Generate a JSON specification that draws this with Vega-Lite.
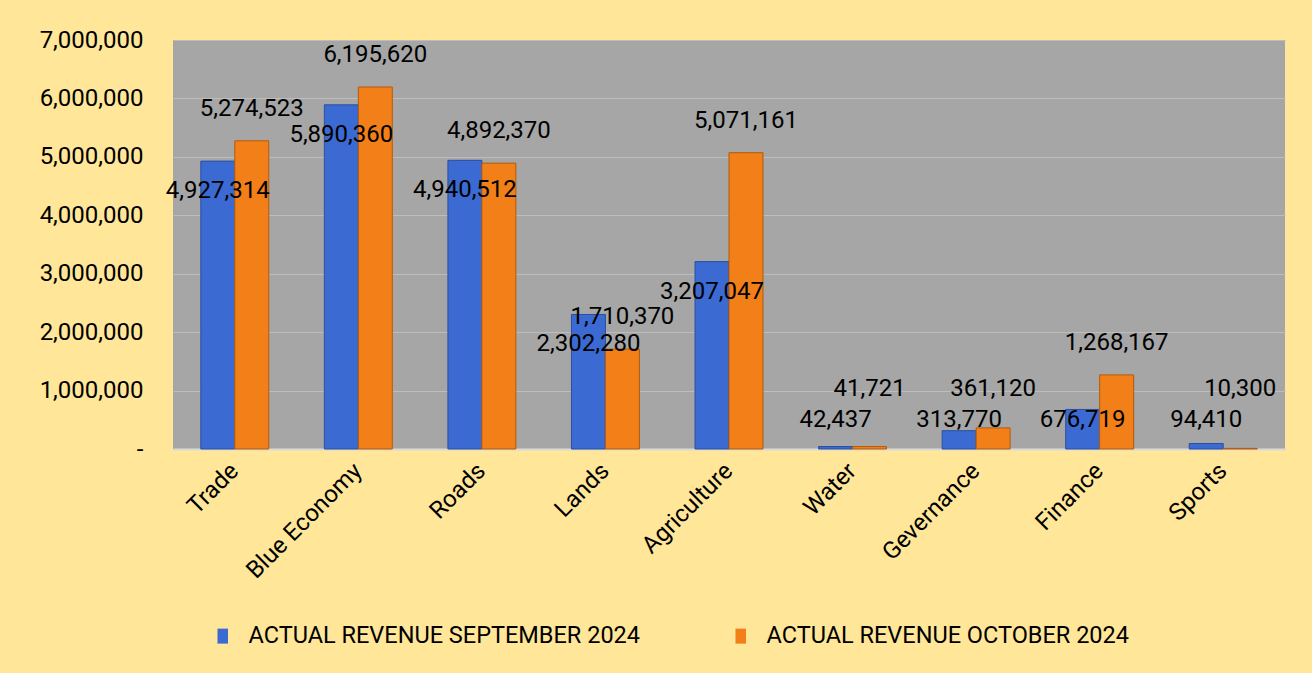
{
  "$schema": "https://vega.github.io/schema/vega-lite/v6.json",
  "autosize": "none",
  "width": 1112,
  "height": 409,
  "padding": {"left": 173, "top": 40, "right": 27, "bottom": 224},
  "background": "#FFE699",
  "config": {
    "view": {"fill": "#A6A6A6", "stroke": null},
    "font": "Roboto",
    "axis": {"labelFont": "Roboto", "labelColor": "#000000"},
    "legend": {"labelFont": "Roboto", "labelColor": "#000000"}
  },
  "data": {
    "values": [
      {"category": "Trade", "series": "ACTUAL REVENUE SEPTEMBER 2024", "value": 4927314},
      {"category": "Trade", "series": "ACTUAL REVENUE OCTOBER 2024", "value": 5274523},
      {"category": "Blue Economy", "series": "ACTUAL REVENUE SEPTEMBER 2024", "value": 5890360},
      {"category": "Blue Economy", "series": "ACTUAL REVENUE OCTOBER 2024", "value": 6195620},
      {"category": "Roads", "series": "ACTUAL REVENUE SEPTEMBER 2024", "value": 4940512},
      {"category": "Roads", "series": "ACTUAL REVENUE OCTOBER 2024", "value": 4892370},
      {"category": "Lands", "series": "ACTUAL REVENUE SEPTEMBER 2024", "value": 2302280},
      {"category": "Lands", "series": "ACTUAL REVENUE OCTOBER 2024", "value": 1710370},
      {"category": "Agriculture", "series": "ACTUAL REVENUE SEPTEMBER 2024", "value": 3207047},
      {"category": "Agriculture", "series": "ACTUAL REVENUE OCTOBER 2024", "value": 5071161},
      {"category": "Water", "series": "ACTUAL REVENUE SEPTEMBER 2024", "value": 42437},
      {"category": "Water", "series": "ACTUAL REVENUE OCTOBER 2024", "value": 41721},
      {"category": "Gevernance", "series": "ACTUAL REVENUE SEPTEMBER 2024", "value": 313770},
      {"category": "Gevernance", "series": "ACTUAL REVENUE OCTOBER 2024", "value": 361120},
      {"category": "Finance", "series": "ACTUAL REVENUE SEPTEMBER 2024", "value": 676719},
      {"category": "Finance", "series": "ACTUAL REVENUE OCTOBER 2024", "value": 1268167},
      {"category": "Sports", "series": "ACTUAL REVENUE SEPTEMBER 2024", "value": 94410},
      {"category": "Sports", "series": "ACTUAL REVENUE OCTOBER 2024", "value": 10300}
    ]
  },
  "encoding": {
    "x": {
      "field": "category",
      "type": "nominal",
      "sort": null,
      "scale": {"paddingInner": 0.45, "paddingOuter": 0.225},
      "axis": {
        "title": null,
        "labelAngle": -45,
        "labelAlign": "right",
        "labelBaseline": "middle",
        "labelFontSize": 24,
        "labelPadding": 18,
        "ticks": false,
        "domain": true,
        "domainColor": "#D9D9D9",
        "domainWidth": 2
      }
    },
    "xOffset": {
      "field": "series",
      "type": "nominal",
      "sort": ["ACTUAL REVENUE SEPTEMBER 2024", "ACTUAL REVENUE OCTOBER 2024"]
    }
  },
  "layer": [
    {
      "mark": {"type": "bar", "strokeWidth": 1},
      "encoding": {
        "y": {
          "field": "value",
          "type": "quantitative",
          "scale": {"domain": [0, 7000000]},
          "axis": {
            "title": null,
            "values": [0, 1000000, 2000000, 3000000, 4000000, 5000000, 6000000, 7000000],
            "labelOverlap": false,
            "labelExpr": "datum.value == 0 ? '-\u00a0\u00a0' : format(datum.value, ',')",
            "labelFontSize": 24,
            "labelPadding": 30,
            "ticks": false,
            "domain": false,
            "grid": true,
            "gridColor": "#BDBDBD",
            "gridWidth": 1
          }
        },
        "color": {
          "field": "series",
          "type": "nominal",
          "sort": ["ACTUAL REVENUE SEPTEMBER 2024", "ACTUAL REVENUE OCTOBER 2024"],
          "scale": {"range": ["#3A6AD2", "#F27F17"]},
          "legend": {
            "title": null,
            "orient": "none",
            "legendX": 38,
            "legendY": 584,
            "direction": "horizontal",
            "columns": 2,
            "columnPadding": 88,
            "symbolType": "M-0.7,-1H0.7V1H-0.7Z",
            "symbolSize": 225,
            "symbolStrokeWidth": 0,
            "labelFontSize": 23.5,
            "labelOffset": 14,
            "labelLimit": 600
          }
        },
        "stroke": {
          "field": "series",
          "type": "nominal",
          "sort": ["ACTUAL REVENUE SEPTEMBER 2024", "ACTUAL REVENUE OCTOBER 2024"],
          "scale": {"range": ["#2B4F9E", "#B35A0C"]},
          "legend": null
        }
      }
    },
    {
      "transform": [
        {"calculate": "datum.series == 'ACTUAL REVENUE SEPTEMBER 2024' ? max(datum.value - 513000, 496000) : max(datum.value + 550000, 1020000)", "as": "labelPos"}
      ],
      "mark": {"type": "text", "fontSize": 24, "color": "#000000", "baseline": "middle"},
      "encoding": {
        "y": {"field": "labelPos", "type": "quantitative"},
        "text": {"field": "value", "type": "quantitative", "format": ","}
      }
    }
  ]
}
